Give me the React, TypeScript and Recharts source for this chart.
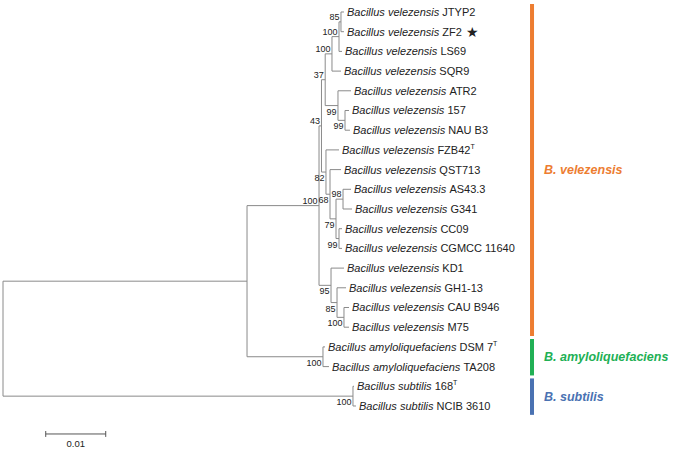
import React from 'react';
import { ComposedChart, XAxis, YAxis, Scatter, ReferenceLine } from 'recharts';

// leaves, top to bottom
const leafNames = [
  'JTYP2', 'ZF2', 'LS69', 'SQR9', 'ATR2', '157', 'NAU B3', 'FZB42', 'QST713', 'AS43.3', 'G341',
  'CC09', 'CGMCC 11640', 'KD1', 'GH1-13', 'CAU B946', 'M75', 'DSM 7', 'TA208', '168', 'NCIB 3610',
];
const leafSpecies = [
  'velezensis', 'velezensis', 'velezensis', 'velezensis', 'velezensis', 'velezensis', 'velezensis',
  'velezensis', 'velezensis', 'velezensis', 'velezensis', 'velezensis', 'velezensis', 'velezensis',
  'velezensis', 'velezensis', 'velezensis', 'amyloliquefaciens', 'amyloliquefaciens', 'subtilis', 'subtilis',
];
// distance from root to each tip
const leafDepths = [
  0.05683, 0.05683, 0.0565, 0.05633, 0.058, 0.05767, 0.05783, 0.056, 0.05633, 0.058, 0.05817,
  0.0565, 0.0565, 0.05683, 0.05717, 0.05767, 0.05767, 0.05367, 0.05433, 0.0585, 0.05883,
];
const typeStrains = ['FZB42', 'DSM 7', '168'];
const starred = ['ZF2'];

// internal nodes (children listed before parents)
const nodeNames = [
  'JZ', 'JZL', 'JZLS', 'N157', 'ATRg', 'C37', 'AG', 'CCg', 'C79', 'C68', 'C82', 'C43',
  'CAUM', 'C85', 'C95', 'VEL', 'AMY', 'VA', 'SUB', 'ROOT',
];
const nodeChildren = [
  ['JTYP2', 'ZF2'], ['JZ', 'LS69'], ['JZL', 'SQR9'], ['157', 'NAU B3'], ['ATR2', 'N157'],
  ['JZLS', 'ATRg'], ['AS43.3', 'G341'], ['CC09', 'CGMCC 11640'], ['AG', 'CCg'], ['QST713', 'C79'],
  ['FZB42', 'C68'], ['C37', 'C82'], ['CAU B946', 'M75'], ['GH1-13', 'CAUM'], ['KD1', 'C85'],
  ['C43', 'C95'], ['DSM 7', 'TA208'], ['VEL', 'AMY'], ['168', 'NCIB 3610'], ['VA', 'SUB'],
];
const nodeDepths = [
  0.05633, 0.056, 0.05483, 0.057, 0.05583, 0.0537, 0.05667, 0.056, 0.0555, 0.0545, 0.05383, 0.05308,
  0.05683, 0.05567, 0.05467, 0.05267, 0.05333, 0.04067, 0.05833, 0,
];
const nodeSupport = [85, 100, 100, 99, 99, 37, 98, 99, 79, 68, 82, 43, 100, 85, 95, 100, 100, null, 100, null];

const cladeNames = ['B. velezensis', 'B. amyloliquefaciens', 'B. subtilis'];
const cladeFirstLeaf = [0, 17, 19];
const cladeLastLeaf = [16, 18, 20];

const scaleBarLength = 0.01;
const scaleBarLabel = '0.01';

const W = 677;
const H = 449;
const FONT = '"Liberation Sans", Arial, sans-serif';
const LINE = '#8a8a8a';
const TEXT = '#222';
const CLADE_COLORS = ['#ED7D31', '#21B055', '#4A72B2'];

// layout in data units
const X_DOMAIN: [number, number] = [-0.0005, 0.112333];
const Y_DOMAIN: [number, number] = [-0.609, 22.183];
const CLADE_X = 0.08817;
const SCALE_X = 0.00712;
const SCALE_Y = 21.42;

const pos: Record<string, { x: number; y: number }> = {};
leafNames.forEach((n, i) => { pos[n] = { x: leafDepths[i], y: i }; });
nodeNames.forEach((n, i) => {
  const [a, b] = nodeChildren[i];
  pos[n] = { x: nodeDepths[i], y: (pos[a].y + pos[b].y) / 2 };
});

const segments: { x: number; y: number }[][] = [];
nodeNames.forEach((n, i) => {
  const d = nodeDepths[i];
  const [a, b] = nodeChildren[i];
  segments.push([{ x: d, y: pos[a].y }, { x: d, y: pos[b].y }]);
  [a, b].forEach(c => segments.push([{ x: d, y: pos[c].y }, { x: pos[c].x, y: pos[c].y }]));
});

const leafData = leafNames.map((n, i) => ({
  x: leafDepths[i], y: i, name: n, species: leafSpecies[i],
  type: typeStrains.includes(n), star: starred.includes(n),
}));

const supportData = nodeNames
  .map((n, i) => {
    const p = nodeChildren.findIndex(ch => ch.includes(n));
    return { x: nodeDepths[i], y: pos[n].y, label: nodeSupport[i], upper: p >= 0 && nodeChildren[p][0] === n };
  })
  .filter(d => d.label !== null);

const cladeData = cladeNames.map((c, i) => ({
  x: CLADE_X, y: (cladeFirstLeaf[i] - 0.4 + cladeLastLeaf[i] + 0.45) / 2, name: c, idx: i,
}));

const scaleData = [{ x: SCALE_X + scaleBarLength / 2, y: SCALE_Y + 0.5, label: scaleBarLabel }];

const LeafLabel = (props: any) => {
  const { cx, cy, payload } = props;
  return (
    <text x={cx + 3} y={cy + 4} fontFamily={FONT} fontSize={11} fill={TEXT} style={{ whiteSpace: 'pre' }}>
      <tspan fontStyle="italic">{`Bacillus ${payload.species} `}</tspan>
      <tspan>{payload.name}</tspan>
      {payload.type && <tspan fontSize={7} dy={-5}>T</tspan>}
      {payload.star && <tspan fontSize={14} dx={4} dy={1}>★</tspan>}
    </text>
  );
};

const SupportLabel = (props: any) => {
  const { cx, cy, payload } = props;
  return (
    <text x={cx - 1.5} y={payload.upper ? cy - 2 : cy + 9} textAnchor="end" fontFamily={FONT} fontSize={9} fill={TEXT}>
      {payload.label}
    </text>
  );
};

const CladeLabel = (props: any) => {
  const { cx, cy, payload } = props;
  return (
    <text x={cx + 12} y={cy + 4} fontFamily={FONT} fontSize={12.5} fontWeight="bold" fontStyle="italic" fill={CLADE_COLORS[payload.idx]}>
      {payload.name}
    </text>
  );
};

const ScaleLabel = (props: any) => {
  const { cx, cy, payload } = props;
  return (
    <text x={cx} y={cy + 3} textAnchor="middle" fontFamily={FONT} fontSize={9.5} fill={TEXT}>
      {payload.label}
    </text>
  );
};

export default function App() {
  return (
    <div style={{ position: 'absolute', left: 0, top: 0, background: '#fff' }}>
      <ComposedChart width={W} height={H} margin={{ top: 0, right: 0, bottom: 0, left: 0 }}>
        <XAxis type="number" dataKey="x" domain={X_DOMAIN} allowDataOverflow hide />
        <YAxis type="number" dataKey="y" domain={Y_DOMAIN} allowDataOverflow reversed hide />
        {segments.map((s, i) => (
          <ReferenceLine key={`seg-${i}`} segment={s} stroke={LINE} strokeWidth={1} ifOverflow="visible" />
        ))}
        {cladeNames.map((c, i) => (
          <ReferenceLine
            key={`bar-${i}`}
            segment={[{ x: CLADE_X, y: cladeFirstLeaf[i] - 0.4 }, { x: CLADE_X, y: cladeLastLeaf[i] + 0.45 }]}
            stroke={CLADE_COLORS[i]}
            strokeWidth={4}
            ifOverflow="visible"
          />
        ))}
        <ReferenceLine segment={[{ x: SCALE_X, y: SCALE_Y }, { x: SCALE_X + scaleBarLength, y: SCALE_Y }]} stroke="#555" ifOverflow="visible" />
        <ReferenceLine segment={[{ x: SCALE_X, y: SCALE_Y - 0.15 }, { x: SCALE_X, y: SCALE_Y + 0.15 }]} stroke="#555" ifOverflow="visible" />
        <ReferenceLine segment={[{ x: SCALE_X + scaleBarLength, y: SCALE_Y - 0.15 }, { x: SCALE_X + scaleBarLength, y: SCALE_Y + 0.15 }]} stroke="#555" ifOverflow="visible" />
        <Scatter data={leafData} shape={LeafLabel} isAnimationActive={false} />
        <Scatter data={supportData} shape={SupportLabel} isAnimationActive={false} />
        <Scatter data={cladeData} shape={CladeLabel} isAnimationActive={false} />
        <Scatter data={scaleData} shape={ScaleLabel} isAnimationActive={false} />
      </ComposedChart>
    </div>
  );
}
